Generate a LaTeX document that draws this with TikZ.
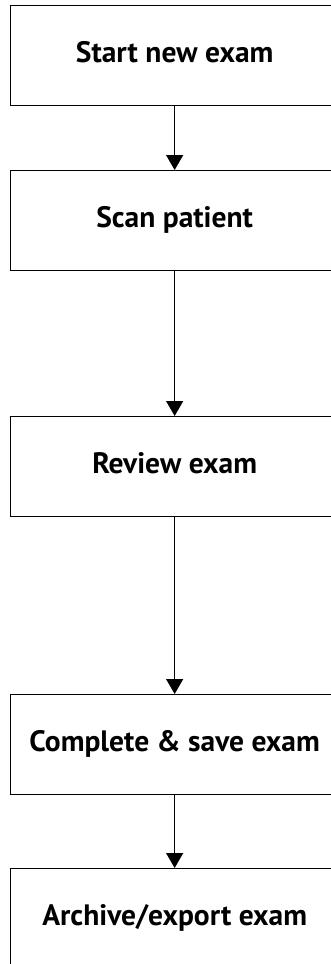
\documentclass[tikz,border=0pt]{standalone}
\usepackage{fontspec}
\setmainfont{PT Sans}
\usetikzlibrary{arrows.meta}
\begin{document}
\begin{tikzpicture}[x=1pt,y=-1pt,
  stepbox/.style={draw=black,line width=1.3pt,minimum width=328pt,minimum height=100pt,
    anchor=north west,inner sep=0pt,font=\bfseries\fontsize{29.5}{34}\selectfont,
    text height=20pt,text depth=6pt},
  flow/.style={line width=1.3pt,-{Triangle[width=17pt,length=15pt]}}]
\useasboundingbox (0,0) rectangle (331,964);
\clip (0,0) rectangle (331,964);
\node[stepbox] (b1) at (10,5) {Start new exam};
\node[stepbox] (b2) at (10,170) {Scan patient};
\node[stepbox] (b3) at (10,416) {Review exam};
\node[stepbox] (b4) at (10,694) {Complete \& save exam};
\node[stepbox] (b5) at (10,868) {Archive/export exam};
\draw[flow] (b1.south) -- (b2.north);
\draw[flow] (b2.south) -- (b3.north);
\draw[flow] (b3.south) -- (b4.north);
\draw[flow] (b4.south) -- (b5.north);
\end{tikzpicture}
\end{document}
